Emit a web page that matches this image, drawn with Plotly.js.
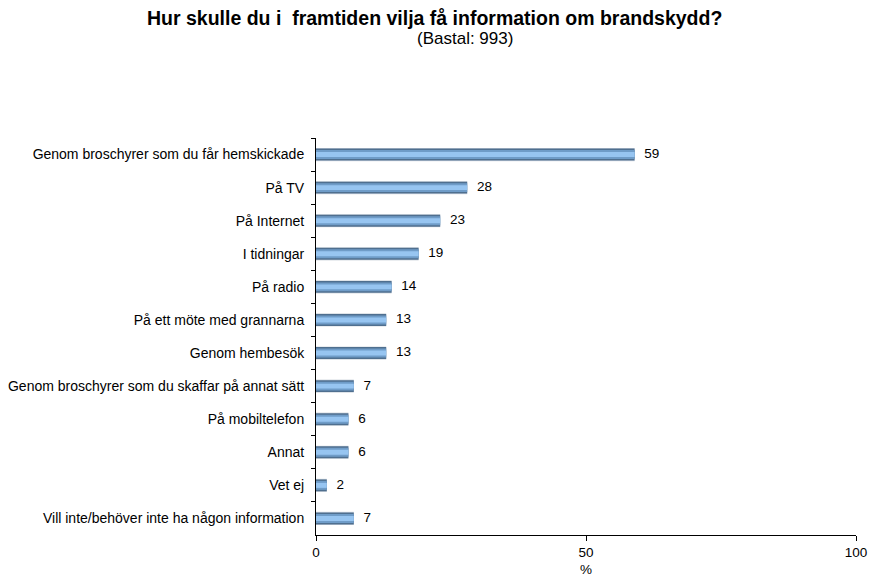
<!DOCTYPE html>
<html>
<head>
<meta charset="utf-8">
<script src="https://cdn.plot.ly/plotly-3.0.1.min.js"></script>
<style>html,body{margin:0;padding:0;background:#fff;}#chart{width:869px;height:577px;}</style>
</head>
<body>
<div id="chart"></div>
<script>
const categories = [
  "Genom broschyrer som du får hemskickade",
  "På TV",
  "På Internet",
  "I tidningar",
  "På radio",
  "På ett möte med grannarna",
  "Genom hembesök",
  "Genom broschyrer som du skaffar på annat sätt",
  "På mobiltelefon",
  "Annat",
  "Vet ej",
  "Vill inte/behöver inte ha någon information"
];
const values = [59, 28, 23, 19, 14, 13, 13, 7, 6, 6, 2, 7];
const xTicks = [0, 50, 100];

const FONT = 'Liberation Sans, Arial, Helvetica, sans-serif';

const layers = [
  {w: 0.40, c: '#d5dbe2'},
  {w: 0.36, c: '#4f6f8f'},
  {w: 0.27, c: '#6f9cc8'},
  {w: 0.15, c: '#97c5f1'}
];

const traces = layers.map(l => ({
  type: 'bar',
  orientation: 'h',
  y: categories,
  x: values,
  width: l.w,
  marker: {color: l.c, line: {width: 0}},
  hoverinfo: 'skip',
  showlegend: false
}));

traces.push({
  type: 'scatter',
  mode: 'markers+text',
  y: categories,
  x: values,
  text: values.map(String),
  textposition: 'middle right',
  marker: {size: 14, opacity: 0},
  textfont: {family: FONT, size: 13.5, color: '#000'},
  cliponaxis: false,
  hoverinfo: 'skip',
  showlegend: false
});

const layout = {
  width: 869,
  height: 577,
  margin: {l: 316, r: 13, t: 138, b: 42},
  paper_bgcolor: '#fff',
  plot_bgcolor: '#fff',
  barmode: 'overlay',
  font: {family: FONT, size: 13, color: '#000'},
  annotations: [
    {text: '<b>Hur skulle du i  framtiden vilja få information om brandskydd?</b>', xref: 'paper', yref: 'paper', x: 0.5, y: 1, xanchor: 'center', yanchor: 'middle', showarrow: false, font: {family: FONT, size: 19.5, color: '#000'}, yshift: 120, xshift: -152},
    {text: '(Bastal: 993)', xref: 'paper', yref: 'paper', x: 0.5, y: 1, xanchor: 'center', yanchor: 'middle', showarrow: false, font: {family: FONT, size: 17, color: '#000'}, yshift: 100, xshift: -121}
  ],
  xaxis: {
    range: [0, 100],
    tickvals: xTicks,
    ticktext: xTicks.map(String),
    ticks: 'outside',
    ticklen: 5,
    tickcolor: '#000',
    showline: true,
    linecolor: '#000',
    linewidth: 1,
    showgrid: false,
    zeroline: false,
    tickfont: {family: FONT, size: 13.5, color: '#000'},
    title: {text: '%', font: {family: FONT, size: 13.5, color: '#000000'}, standoff: 6}
  },
  yaxis: {
    type: 'category',
    range: [categories.length - 0.5, -0.5],
    ticks: 'outside',
    tickson: 'boundaries',
    ticklen: 4,
    tickcolor: '#000',
    showline: true,
    linecolor: '#000',
    linewidth: 1,
    showgrid: false,
    zeroline: false,
    tickfont: {family: FONT, size: 14, color: '#000'},
    ticklabelstandoff: 8
  }
};

Plotly.newPlot('chart', traces, layout, {displayModeBar: false, staticPlot: true});
</script>
</body>
</html>
